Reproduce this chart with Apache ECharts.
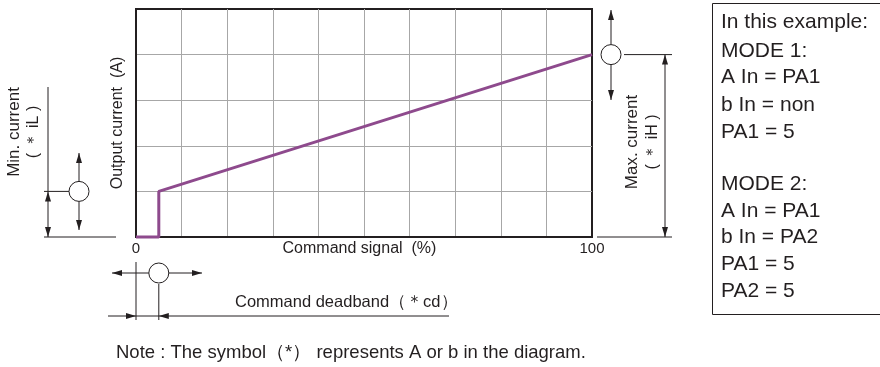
<!DOCTYPE html>
<html>
<head>
<meta charset="utf-8">
<script src="https://cdn.jsdelivr.net/npm/echarts@6/dist/echarts.min.js"></script>
<style>
  html, body { margin: 0; padding: 0; background: #fff; }
  #main { width: 880px; height: 367px; }
</style>
</head>
<body>
<div id="main"></div>
<script>
// 指令信号 (%) 与输出电流的折线
var signalPct = [0, 5, 5, 100];
var outputCur = [0, 0, 1, 4];
// 坐标轴刻度文字
var xTickLabels = { 0: '0', 100: '100' };
// 右侧方框文字
var boxLines = ['In this example:', 'MODE 1:', 'A In = PA1', 'b In = non', 'PA1 = 5', '',
    'MODE 2:', 'A In = PA1', 'b In = PA2', 'PA1 = 5', 'PA2 = 5'];

var FONT = '"Liberation Sans", Arial, Helvetica, sans-serif';
var INK = '#231f20';

var chart = echarts.init(document.getElementById('main'), null, { renderer: 'canvas' });

var lineData = [];
for (var i = 0; i < signalPct.length; i++) {
    lineData.push([signalPct[i], outputCur[i]]);
}

var option = {
    backgroundColor: '#fff',
    animation: false,
    grid: {
        left: 136, right: 288, top: 9, bottom: 130,
        show: true, borderColor: INK, borderWidth: 2
    },
    xAxis: {
        type: 'value', min: 0, max: 100, interval: 10,
        axisLine: { show: true, lineStyle: { color: INK, width: 2 } },
        axisTick: { show: false },
        axisLabel: {
            color: INK, fontSize: 15, fontFamily: FONT, margin: 4,
            formatter: function (v) { return xTickLabels[v] || ''; }
        },
        splitLine: { show: true, showMinLine: false, showMaxLine: false,
            lineStyle: { color: '#a7a7a7', width: 1 } }
    },
    yAxis: {
        type: 'value', min: 0, max: 5, interval: 1,
        name: 'Output current  (A)',
        nameLocation: 'middle', nameGap: 10, nameRotate: 90,
        nameTextStyle: { color: INK, fontSize: 16, fontFamily: FONT },
        axisLine: { show: true, lineStyle: { color: INK, width: 2 } },
        axisTick: { show: false },
        axisLabel: { show: false },
        splitLine: { show: true, showMinLine: false, showMaxLine: false,
            lineStyle: { color: '#a7a7a7', width: 1 } }
    },
    series: [
        {
            type: 'line',
            data: lineData,
            showSymbol: false,
            clip: false,
            z: 10,
            lineStyle: { color: '#8e4a8d', width: 3 }
        }
    ]
};
chart.setOption(option);

// 注释图形
var p0 = chart.convertToPixel({ gridIndex: 0 }, [0, 0]);
var pMin = chart.convertToPixel({ gridIndex: 0 }, [0, outputCur[2]]);
var pMax = chart.convertToPixel({ gridIndex: 0 }, [100, outputCur[3]]);
var pDead = chart.convertToPixel({ gridIndex: 0 }, [signalPct[1], 0]);
var pMid = chart.convertToPixel({ gridIndex: 0 }, [49, 0]);
var x0 = p0[0], y0 = p0[1], yMin = pMin[1], yMax = pMax[1], xMax = pMax[0], xDead = pDead[0];

var g = [];
function seg(x1, y1, x2, y2) {
    g.push({ type: 'line', shape: { x1: x1, y1: y1, x2: x2, y2: y2 },
        style: { stroke: INK, lineWidth: 1 }, z: 20 });
}
function head(x, y, dir) {
    var L = 10, W = 3;
    var pts;
    if (dir === 'up') pts = [[x, y], [x - W, y + L], [x + W, y + L]];
    if (dir === 'down') pts = [[x, y], [x - W, y - L], [x + W, y - L]];
    if (dir === 'left') pts = [[x, y], [x + L, y - W], [x + L, y + W]];
    if (dir === 'right') pts = [[x, y], [x - L, y - W], [x - L, y + W]];
    g.push({ type: 'polygon', shape: { points: pts }, style: { fill: INK }, z: 20 });
}
function circ(cx, cy) {
    g.push({ type: 'circle', shape: { cx: cx, cy: cy, r: 10 },
        style: { fill: '#fff', stroke: INK, lineWidth: 1 }, z: 21 });
}
function txt(x, y, s, size, rot, align) {
    g.push({ type: 'text', x: x, y: y, rotation: rot || 0, z: 20,
        style: { text: s, fill: INK, font: size + 'px ' + FONT,
            textAlign: align || 'center', textVerticalAlign: 'middle' } });
}

// x 轴名称
txt(pMid[0], y0 + 12, 'Command signal  (%)', 16);

// Min. current
seg(48, 87, 48, yMin);
seg(48, yMin, 48, y0); head(48, yMin, 'up'); head(48, y0, 'down');
seg(44, yMin, 69, yMin);
circ(79, yMin);
seg(79, yMin - 10, 79, 153); head(79, 153, 'up');
seg(79, yMin + 10, 79, 230); head(79, 230, 'down');
seg(44, y0, 116, y0);
txt(14, 132, 'Min. current', 17, Math.PI / 2);
txt(34, 132, '( ＊ iL )', 16, Math.PI / 2);

// Max. current
circ(xMax + 19, yMax);
seg(xMax + 19, yMax - 10, xMax + 19, 10); head(xMax + 19, 10, 'up');
seg(xMax + 19, yMax + 10, xMax + 19, 100); head(xMax + 19, 100, 'down');
seg(624, yMax, 672, yMax);
seg(665, yMax, 665, y0); head(665, yMax, 'up'); head(665, y0, 'down');
seg(597, y0, 672, y0);
txt(632, 142, 'Max. current', 17, Math.PI / 2);
txt(653, 142, '( ＊ iH )', 16, Math.PI / 2);

// Command deadband
seg(x0, 262, x0, 320);
seg(xDead, 284, xDead, 320);
circ(xDead, 273);
seg(xDead - 10, 273, 112, 273); head(112, 273, 'left');
seg(xDead + 10, 273, 202, 273); head(202, 273, 'right');
seg(108, 316, 449, 316);
head(x0, 316, 'right'); head(xDead, 316, 'left');
txt(235, 302, 'Command deadband（＊cd）', 16.5, 0, 'left');

// Note
txt(116, 353, 'Note : The symbol（*） represents A or b in the diagram.', 18.5, 0, 'left');

// Box
g.push({ type: 'rect', shape: { x: 712.5, y: 3.5, width: 180, height: 311 },
    style: { fill: 'none', stroke: INK, lineWidth: 1 }, z: 20 });
var boxY = [22, 51, 77, 105, 132, 158, 184, 211, 237, 264, 291];
for (var k = 0; k < boxLines.length; k++) {
    if (boxLines[k]) txt(721, boxY[k], boxLines[k], 21, 0, 'left');
}

chart.setOption({ graphic: g });
</script>
</body>
</html>
